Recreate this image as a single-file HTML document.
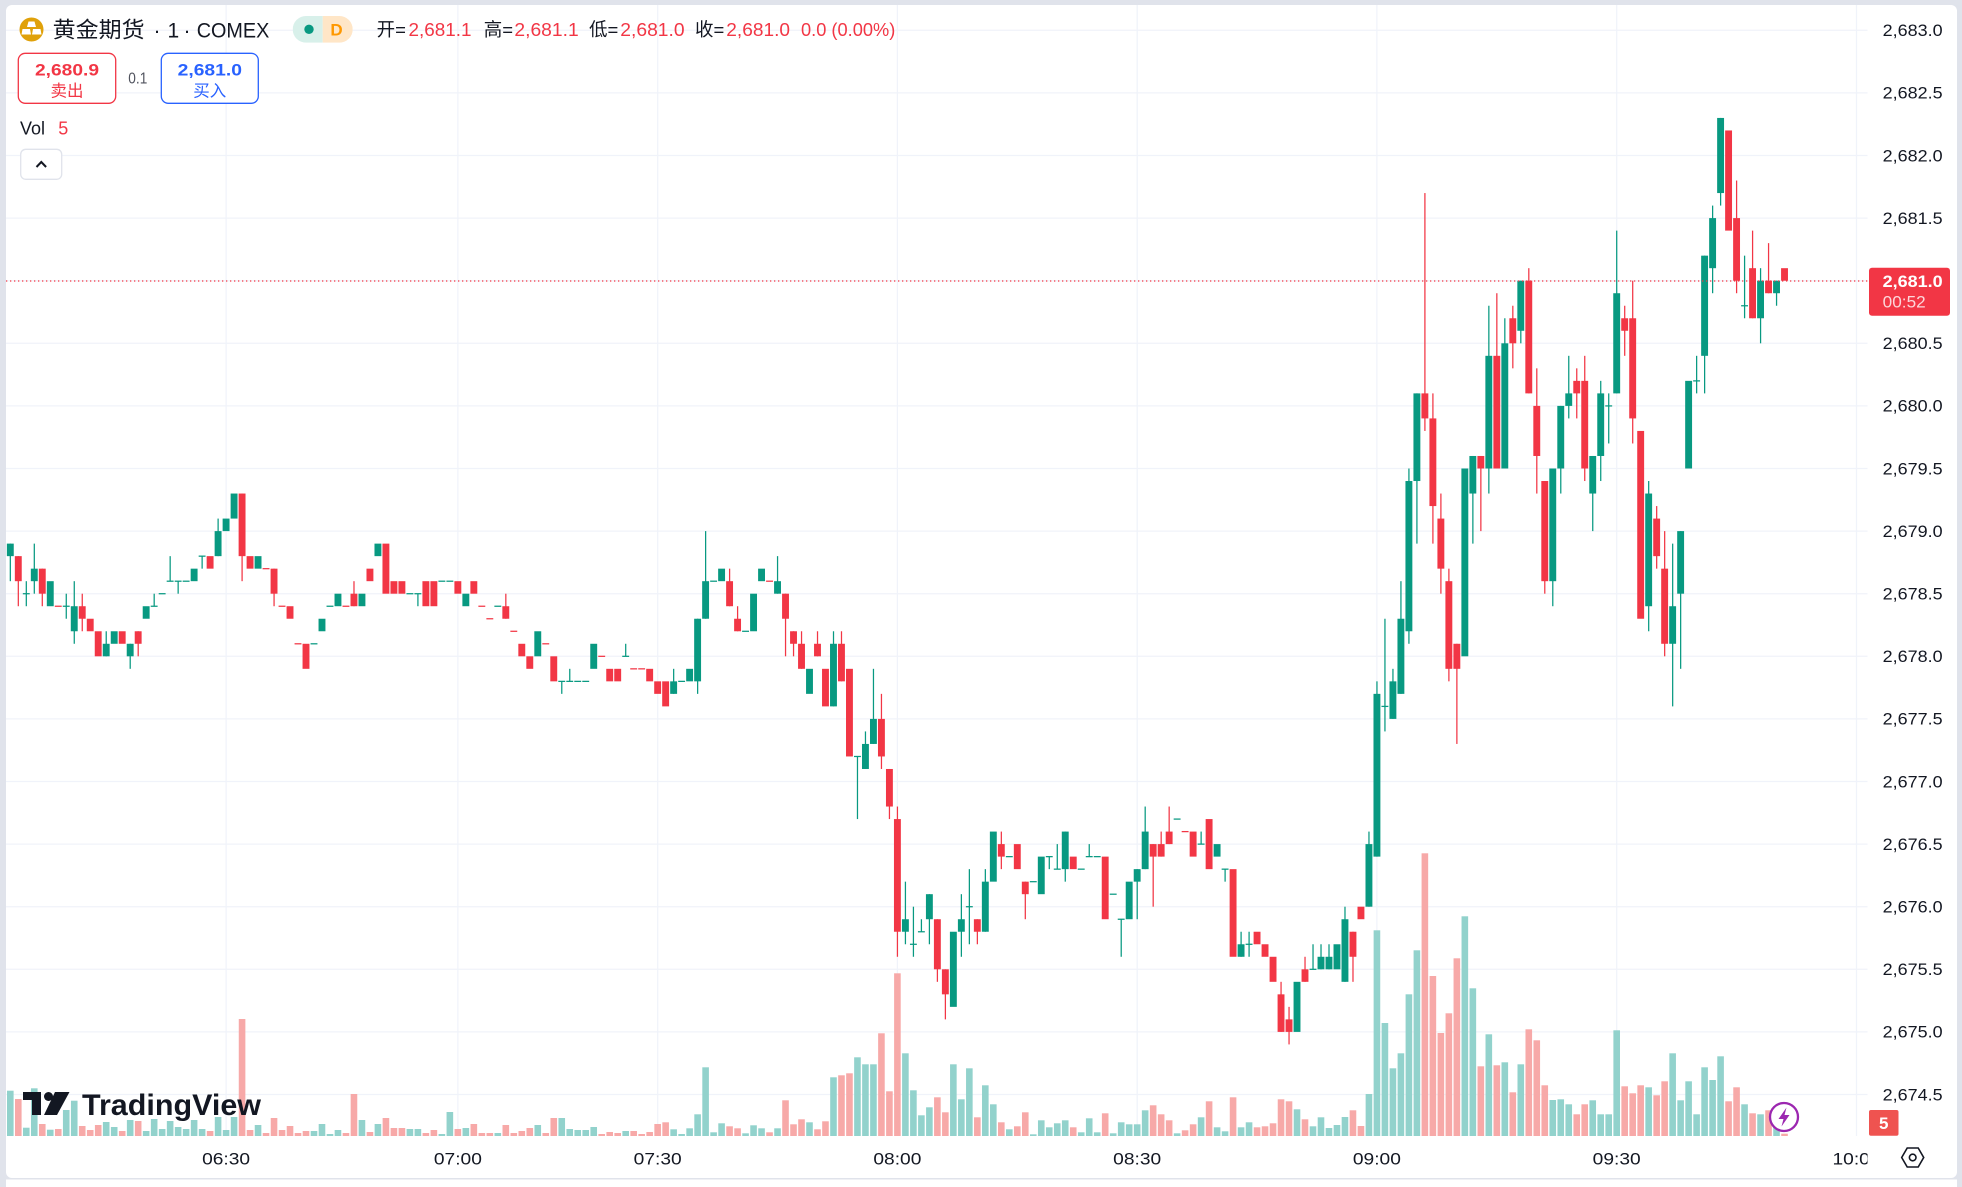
<!DOCTYPE html>
<html><head><meta charset="utf-8">
<style>
html,body{margin:0;padding:0;background:#e0e3eb;}
body{width:1962px;height:1187px;overflow:hidden;}
svg{display:block;}
text{font-family:"Liberation Sans","Noto Sans CJK SC",sans-serif;}
</style></head><body>
<svg id="c" width="1962" height="1187" viewBox="0 0 1962 1187" xmlns="http://www.w3.org/2000/svg">
<defs>
<clipPath id="plot"><rect x="6" y="5" width="1861.5" height="1131"/></clipPath>
<clipPath id="tx"><rect x="6" y="1136" width="1861.5" height="42"/></clipPath>
<clipPath id="pill"><rect x="292.7" y="16" width="60" height="26.7" rx="13.35"/></clipPath>
</defs>
<rect x="0" y="0" width="1962" height="1187" fill="#e0e3eb"/>
<rect x="6" y="5" width="1951" height="1173" rx="6" fill="#ffffff"/>
<rect x="6" y="1179.5" width="1951" height="10" fill="#ffffff"/>

<g stroke="#f0f3fa" stroke-width="1.25" fill="none">
<line x1="6" x2="1867.5" y1="30.3" y2="30.3"/>
<line x1="6" x2="1867.5" y1="92.9" y2="92.9"/>
<line x1="6" x2="1867.5" y1="155.5" y2="155.5"/>
<line x1="6" x2="1867.5" y1="218.1" y2="218.1"/>
<line x1="6" x2="1867.5" y1="280.7" y2="280.7"/>
<line x1="6" x2="1867.5" y1="343.3" y2="343.3"/>
<line x1="6" x2="1867.5" y1="405.9" y2="405.9"/>
<line x1="6" x2="1867.5" y1="468.5" y2="468.5"/>
<line x1="6" x2="1867.5" y1="531.1" y2="531.1"/>
<line x1="6" x2="1867.5" y1="593.7" y2="593.7"/>
<line x1="6" x2="1867.5" y1="656.3" y2="656.3"/>
<line x1="6" x2="1867.5" y1="718.9" y2="718.9"/>
<line x1="6" x2="1867.5" y1="781.5" y2="781.5"/>
<line x1="6" x2="1867.5" y1="844.1" y2="844.1"/>
<line x1="6" x2="1867.5" y1="906.7" y2="906.7"/>
<line x1="6" x2="1867.5" y1="969.3" y2="969.3"/>
<line x1="6" x2="1867.5" y1="1031.9" y2="1031.9"/>
<line x1="6" x2="1867.5" y1="1094.5" y2="1094.5"/>
<line x1="226.1" x2="226.1" y1="5" y2="1136"/>
<line x1="457.9" x2="457.9" y1="5" y2="1136"/>
<line x1="657.7" x2="657.7" y1="5" y2="1136"/>
<line x1="897.4" x2="897.4" y1="5" y2="1136"/>
<line x1="1137.2" x2="1137.2" y1="5" y2="1136"/>
<line x1="1376.9" x2="1376.9" y1="5" y2="1136"/>
<line x1="1616.7" x2="1616.7" y1="5" y2="1136"/>
<line x1="1856.5" x2="1856.5" y1="5" y2="1136"/>
</g>

<g id="vol" clip-path="url(#plot)"></g>
<g id="cdl" clip-path="url(#plot)"></g>

<!-- TradingView logo -->
<g fill="#131722">
<polygon points="23,1092 41,1092 41,1115 32,1115 32,1100 23,1100"/>
<circle cx="48.5" cy="1096.5" r="4.5"/>
<polygon points="55,1092 69.5,1092 57,1115 44,1115"/>
<text x="82" y="1115" font-size="30" font-weight="700" textLength="179" lengthAdjust="spacingAndGlyphs">TradingView</text>
</g>

<!-- current price line -->
<line x1="6" x2="1867.5" y1="281" y2="281" stroke="#f23645" stroke-width="1.25" stroke-dasharray="1.3 2.7"/>

<!-- lightning icon -->
<circle cx="1784" cy="1117" r="14" fill="#ffffff" stroke="#9c27b0" stroke-width="2.3"/>
<polygon points="1786.5,1107.5 1778.5,1119 1783.5,1119 1781.5,1126.5 1789.5,1115 1784.5,1115" fill="#9c27b0"/>

<!-- price axis labels -->
<g font-size="17" fill="#131722">
<text x="1882.7" y="36.1" textLength="60" lengthAdjust="spacingAndGlyphs">2,683.0</text>
<text x="1882.7" y="98.7" textLength="60" lengthAdjust="spacingAndGlyphs">2,682.5</text>
<text x="1882.7" y="161.3" textLength="60" lengthAdjust="spacingAndGlyphs">2,682.0</text>
<text x="1882.7" y="223.9" textLength="60" lengthAdjust="spacingAndGlyphs">2,681.5</text>
<text x="1882.7" y="349.1" textLength="60" lengthAdjust="spacingAndGlyphs">2,680.5</text>
<text x="1882.7" y="411.7" textLength="60" lengthAdjust="spacingAndGlyphs">2,680.0</text>
<text x="1882.7" y="474.3" textLength="60" lengthAdjust="spacingAndGlyphs">2,679.5</text>
<text x="1882.7" y="536.9" textLength="60" lengthAdjust="spacingAndGlyphs">2,679.0</text>
<text x="1882.7" y="599.5" textLength="60" lengthAdjust="spacingAndGlyphs">2,678.5</text>
<text x="1882.7" y="662.1" textLength="60" lengthAdjust="spacingAndGlyphs">2,678.0</text>
<text x="1882.7" y="724.7" textLength="60" lengthAdjust="spacingAndGlyphs">2,677.5</text>
<text x="1882.7" y="787.3" textLength="60" lengthAdjust="spacingAndGlyphs">2,677.0</text>
<text x="1882.7" y="849.9" textLength="60" lengthAdjust="spacingAndGlyphs">2,676.5</text>
<text x="1882.7" y="912.5" textLength="60" lengthAdjust="spacingAndGlyphs">2,676.0</text>
<text x="1882.7" y="975.1" textLength="60" lengthAdjust="spacingAndGlyphs">2,675.5</text>
<text x="1882.7" y="1037.7" textLength="60" lengthAdjust="spacingAndGlyphs">2,675.0</text>
<text x="1882.7" y="1100.3" textLength="60" lengthAdjust="spacingAndGlyphs">2,674.5</text>
</g>

<!-- current price label -->
<rect x="1869" y="267.7" width="81" height="48" rx="3" fill="#f23645"/>
<text x="1882.7" y="287" font-size="17" font-weight="700" fill="#ffffff" textLength="60" lengthAdjust="spacingAndGlyphs">2,681.0</text>
<text x="1882.7" y="307.3" font-size="17" fill="#ffffff" fill-opacity="0.8" textLength="43" lengthAdjust="spacingAndGlyphs">00:52</text>

<!-- volume badge -->
<rect x="1869" y="1110" width="29.5" height="25.7" rx="2" fill="#ef5350"/>
<text x="1883.7" y="1129" font-size="17" font-weight="700" fill="#ffffff" text-anchor="middle">5</text>

<!-- settings icon -->
<polygon points="1901.7,1157.5 1907.2,1148 1918.2,1148 1923.7,1157.5 1918.2,1167 1907.2,1167" fill="none" stroke="#131722" stroke-width="1.6"/>
<circle cx="1912.7" cy="1157.5" r="3.3" fill="none" stroke="#131722" stroke-width="1.6"/>

<!-- time axis -->
<g font-size="17" fill="#131722" text-anchor="middle" clip-path="url(#tx)">
<text x="226.1" y="1164.3" textLength="48" lengthAdjust="spacingAndGlyphs">06:30</text>
<text x="457.9" y="1164.3" textLength="48" lengthAdjust="spacingAndGlyphs">07:00</text>
<text x="657.7" y="1164.3" textLength="48" lengthAdjust="spacingAndGlyphs">07:30</text>
<text x="897.4" y="1164.3" textLength="48" lengthAdjust="spacingAndGlyphs">08:00</text>
<text x="1137.2" y="1164.3" textLength="48" lengthAdjust="spacingAndGlyphs">08:30</text>
<text x="1376.9" y="1164.3" textLength="48" lengthAdjust="spacingAndGlyphs">09:00</text>
<text x="1616.7" y="1164.3" textLength="48" lengthAdjust="spacingAndGlyphs">09:30</text>
<text x="1856.5" y="1164.3" textLength="48" lengthAdjust="spacingAndGlyphs">10:00</text>
</g>

<!-- header -->
<circle cx="31.5" cy="29.5" r="12" fill="#e0a10a"/>
<polygon points="28.5,21.5 34.5,21.5 36,27 27,27" fill="#ffffff"/>
<polygon points="22.5,29 30,29 31,34.5 21.5,34.5" fill="#ffffff"/>
<polygon points="33,29 40.5,29 41.5,34.5 32,34.5" fill="#ffffff"/>
<text x="52.7" y="37.3" font-size="22" fill="#131722" textLength="92" lengthAdjust="spacingAndGlyphs">黄金期货</text>
<text x="153.5" y="37.3" font-size="21" fill="#131722">·</text>
<text x="167.5" y="37.3" font-size="21" fill="#131722">1</text>
<text x="183.5" y="37.3" font-size="21" fill="#131722">·</text>
<text x="196.7" y="37.3" font-size="21" fill="#131722" textLength="72.6" lengthAdjust="spacingAndGlyphs">COMEX</text>

<g clip-path="url(#pill)">
<rect x="292.7" y="16" width="30" height="26.7" fill="#d8f0ea"/>
<rect x="322.7" y="16" width="30" height="26.7" fill="#ffe6c7"/>
</g>
<circle cx="309" cy="29.3" r="4.7" fill="#089981"/>
<text x="336.5" y="35.5" font-size="17" font-weight="700" fill="#ff9800" text-anchor="middle">D</text>

<g font-size="18.5">
<text x="376.6" y="36" fill="#131722">开=</text>
<text x="408.5" y="36" fill="#f23645" textLength="63" lengthAdjust="spacingAndGlyphs">2,681.1</text>
<text x="483.8" y="36" fill="#131722">高=</text>
<text x="514.4" y="36" fill="#f23645" textLength="64.3" lengthAdjust="spacingAndGlyphs">2,681.1</text>
<text x="589" y="36" fill="#131722">低=</text>
<text x="620.3" y="36" fill="#f23645" textLength="64.3" lengthAdjust="spacingAndGlyphs">2,681.0</text>
<text x="695" y="36" fill="#131722">收=</text>
<text x="726.3" y="36" fill="#f23645" textLength="63.7" lengthAdjust="spacingAndGlyphs">2,681.0</text>
<text x="801" y="36" fill="#f23645" textLength="94.3" lengthAdjust="spacingAndGlyphs">0.0 (0.00%)</text>
</g>

<rect x="18.3" y="53.3" width="97.4" height="50" rx="7" fill="#ffffff" stroke="#f23645" stroke-width="1.3"/>
<text x="67" y="75.7" font-size="17" font-weight="700" fill="#f23645" text-anchor="middle" textLength="64" lengthAdjust="spacingAndGlyphs">2,680.9</text>
<text x="67" y="96.7" font-size="16.5" fill="#f23645" text-anchor="middle">卖出</text>
<text x="128.3" y="83.3" font-size="15.5" fill="#50535e" textLength="19" lengthAdjust="spacingAndGlyphs">0.1</text>
<rect x="161.3" y="53.3" width="97" height="50" rx="7" fill="#ffffff" stroke="#2962ff" stroke-width="1.3"/>
<text x="209.8" y="75.7" font-size="17" font-weight="700" fill="#2962ff" text-anchor="middle" textLength="64.3" lengthAdjust="spacingAndGlyphs">2,681.0</text>
<text x="209.8" y="96.7" font-size="16.5" fill="#2962ff" text-anchor="middle">买入</text>

<text x="20" y="134.3" font-size="18" fill="#131722">Vol</text>
<text x="58.3" y="134.3" font-size="18" fill="#f23645">5</text>

<rect x="20.7" y="149.3" width="41" height="30" rx="5" fill="#ffffff" stroke="#e0e3eb" stroke-width="1.3"/>
<polyline points="36.5,167 41.3,162 46.1,167" fill="none" stroke="#131722" stroke-width="2"/>
</svg>
<script>
(function(){
var D=[[88,89,89,86],[88,86,88,84],[85,85,86,84],[86,87,89,85],[87,85,87,84],[84,86],[84,84],[84,84,85,83],[82,84,86,81],[84,83,85,82],
[83,82],[82,80],[80,81,82,80],[81,82],[82,81],[80,81,81,79],[82,81,82,80],[83,84],[84,84,85,84],[85,85],
[86,86,88,86],[86,86,86,85],[86,86],[86,87],[88,88,88,87],[88,87],[88,90,91,88],[90,91],[91,93],[93,88,93,86],
[88,87],[87,88],[87,87],[87,85,87,84],[84,84],[84,83],[81,81],[81,79],[81,81],[82,83],
[84,84],[84,85],[84,84],[85,84,86,84],[84,85],[87,86],[88,89],[89,85],[86,85],[86,85],
[85,85],[85,85,85,84],[86,84],[86,84],[86,86],[86,86],[86,85],[84,85],[86,85],[84,84],
[83,83],[84,84],[84,83,85,83],[82,82],[81,80],[80,79],[80,82],[81,81],[80,78],[78,78,78,77],
[78,78,79,78],[78,78],[78,78],[79,81],[80,80],[79,78],[79,78],[80,80,81,80],[79,79],[79,79],
[79,78],[78,77],[78,76],[77,78,79,77],[78,78],[78,79],[78,83,83,77],[83,86,90,83],[86,86],[86,87],
[86,84,87,84],[83,82,84,82],[82,82],[82,85],[86,87],[86,86],[85,86,88,85],[85,83,85,80],[82,81,82,80],[81,79,82,79],
[77,79],[81,80,82,80],[79,76],[76,81,82,76],[81,78,82,78],[79,72],[72,72,72,67],[71,73,74,71],[73,75,79,73],[75,72,77,71],
[71,68,71,67],[67,58,68,56],[58,59,62,57],[57,57,60,56],[58,58,59,58],[59,61,61,57],[59,55,59,54],[55,53,55,51],[52,58],[58,59,61,56],
[60,60,63,57],[59,58,59,57],[58,62,63,58],[62,66],[65,64,66,63],[64,64],[65,63],[62,61,62,59],[62,62],[61,64],
[64,64,64,63],[63,63,65,63],[63,66,66,62],[64,63],[63,63],[64,64,65,64],[64,64],[64,59],[61,61],[59,59,59,56],
[59,62],[62,63,63,59],[63,66,68,63],[65,64,65,60],[65,64,66,64],[66,65,68,65],[67,67],[66,66],[66,64],[65,65,66,65],
[67,63],[64,65],[63,63,63,62],[63,56],[56,57,58,56],[57,57,58,56],[58,57],[57,56],[56,54],[53,50,54,50],
[51,50,52,49],[50,54],[55,54,56,54],[55,55,57,55],[55,56,57,55],[55,56,57,55],[55,57],[54,59,60,54],[58,56,58,54],[60,59],
[60,65,66,60],[64,77,78,64],[76,76,83,74],[75,78,79,75],[77,83,86,77],[82,94,95,81],[94,101,101,89],[101,99,117,98],[99,92,101,89],[91,87,93,85],
[86,79,87,78],[81,79,81,73],[80,95],[93,96,96,89],[96,95,96,90],[95,104,108,93],[104,95,109,95],[95,105,107,95],[107,105,108,103],[106,110,110,105],
[110,101,111,101],[100,96,103,93],[94,86,94,85],[86,95,95,84],[95,100,100,93],[100,101,104,99],[102,101,103,99],[102,95,104,94],[93,96,96,90],[96,101,102,94],
[100,100,101,97],[101,109,114,101],[107,106,108,104],[107,99,110,97],[98,83],[84,93,94,82],[91,88,92,87],[87,81,90,80],[81,84,89,76],[85,90,90,79],
[95,102],[102,102,104,101],[104,112,112,101],[111,115,116,109],[117,123,123,116],[122,114],[115,110,118,109],[108,108,112,107],[111,107,114,107],[107,110,111,105],
[110,109,113,109],[109,110,110,108],[111,110]];
var V="g45.3 r37 g8.3 g47.7 r12 g6.3 r7 g26 g35.3 r10 r6 r11 g14 g9 r5 g16 r15 g5 g17 g7 g15 g9 g7 g16 g7 r5 g19 g6 g19 r117 r6 g11 r3 r18 r6 r10 r3 r5 g5 g12 g2 g6 r3 r42 g16 r4 g12 r18 r8 r8 g7 g7 r3 r6 g2 g24 r7 g8 r12 r3 r3 g3 r11 r3 r5 r8 g11 r3 r18 g18 g7 g6 g6 g9 r2 r4 r3 g5 r5 r2 r4 r12 r13.7 g6.7 g2 g7.7 g21.7 g68.7 g3.7 g12.7 r9.7 r7.7 g2.7 g10.7 g7.7 r3.7 g7.7 r35.7 r11.7 r16.7 g13.7 r6.7 r14.7 g58.7 r60.7 r62.7 g78.7 g71.7 g71.7 r102.7 r44.7 r162.7 g82.7 g45.7 g20.7 g28.7 r38.7 r23.7 g71.7 g36.7 g67.7 r18.7 g50.7 g31.7 r13.7 g6.7 r9.7 r23.7 g1.7 g15.7 g8.7 g12.7 g15.7 r8.7 g3.7 g17.7 g3.7 r22.7 g2.7 g13.7 g11.7 g11.7 g25.7 r30.7 r21.7 r15.7 g2.7 r5.7 r11.7 g18.7 r34.7 g8.7 g4.7 r38.7 g8.7 g13.7 r8.7 r9.7 r12.7 r36.7 r34.7 g26.7 r16.7 g9.7 g18.7 g8 g11 g19 r25.7 r10 g42 g205.7 g113 g67.7 g82.7 g141.7 g185.7 r282.7 r160 r103 r122.7 r177.7 g219.7 g147.7 r69.7 g101.7 r70.7 g73.7 r43.7 g71.7 r106.7 r95.7 r50.7 g36 g36.7 g31.7 r21.7 r31.7 g35.7 g21.7 g21.7 g105.7 r49.7 r42.7 r50.7 g48.7 r40.7 r54.7 g82.7 g35.7 g54.7 g21.7 g68.7 g56 g79.7 r34.7 r48.7 g31.7 r22.7 g21.7 r25.7 g12 r2.3".split(" ");
var G="#089981",R="#f23645",GV="#92d2cc",RV="#f7a9a8";
function X(i){return 10.3+7.992*i;}
function Y(v){return 656.3-(v-80)*12.52;}
var sv="",sc="";
for(var i=0;i<V.length;i++){
 var t=V[i],h=parseFloat(t.slice(1)),x=X(i);
 sv+='<rect x="'+(x-3.3).toFixed(2)+'" y="'+(1136-h).toFixed(2)+'" width="6.6" height="'+h+'" fill="'+(t[0]=="g"?GV:RV)+'"/>';
}
for(var i=0;i<D.length;i++){
 var d=D[i],o=d[0],c=d[1],hi=d.length>2?d[2]:Math.max(o,c),lo=d.length>3?d[3]:Math.min(o,c);
 var up=c>o||(c==o&&V[i]&&V[i][0]=="g");
 var col=up?G:R,x=X(i);
 var top=Math.max(o,c),bot=Math.min(o,c);
 if(hi>top||lo<bot){
  sc+='<rect x="'+(x-0.6).toFixed(2)+'" y="'+Y(hi).toFixed(2)+'" width="1.25" height="'+(Y(lo)-Y(hi)).toFixed(2)+'" fill="'+col+'"/>';
 }
 if(o!=c){
  sc+='<rect x="'+(x-3.45).toFixed(2)+'" y="'+Y(top).toFixed(2)+'" width="6.9" height="'+(Y(bot)-Y(top)).toFixed(2)+'" fill="'+col+'"/>';
 }else{
  sc+='<rect x="'+(x-3.45).toFixed(2)+'" y="'+(Y(o)-0.6).toFixed(2)+'" width="6.9" height="1.25" fill="'+col+'"/>';
 }
}
document.getElementById("vol").innerHTML=sv;
document.getElementById("cdl").innerHTML=sc;
})();
</script>
</body></html>
